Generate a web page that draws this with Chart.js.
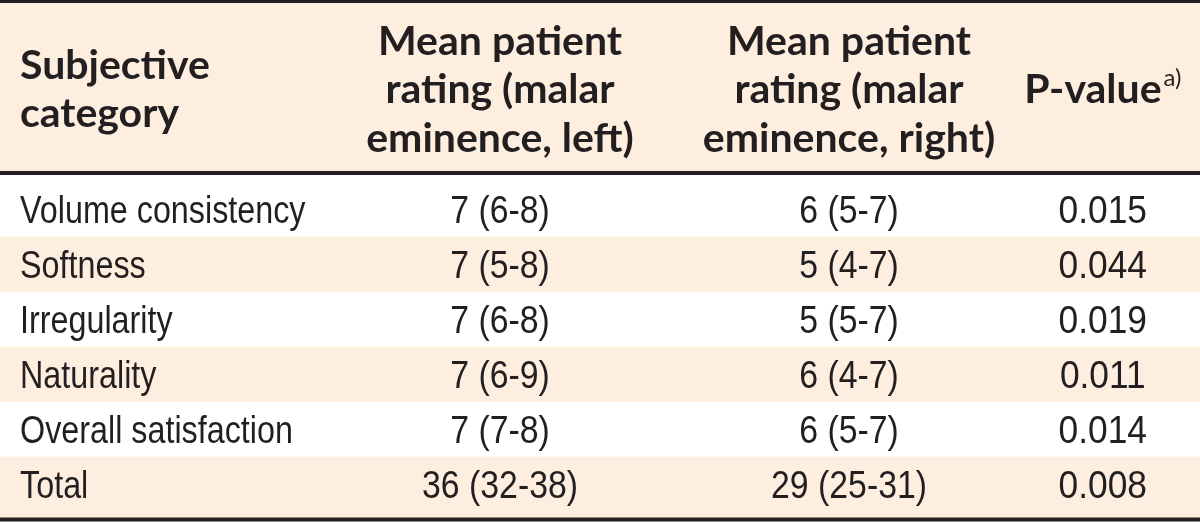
<!DOCTYPE html>
<html lang="en">
<head>
<meta charset="UTF-8">
<title>Mean patient rating by subjective category</title>
<script src="https://cdn.jsdelivr.net/npm/chart.js"></script>
<style>
  html, body { margin: 0; padding: 0; background: #fff; }
  #wrap { width: 1200px; height: 522px; }
</style>
</head>
<body>
<div id="wrap"><canvas id="tbl"></canvas></div>
<script>
const categories = ["Volume consistency", "Softness", "Irregularity", "Naturality", "Overall satisfaction", "Total"];
const leftMean = [7, 7, 7, 7, 7, 36];
const leftLow = [6, 5, 6, 6, 7, 32];
const leftHigh = [8, 8, 8, 9, 8, 38];
const rightMean = [6, 5, 5, 6, 6, 29];
const rightLow = [5, 4, 5, 4, 5, 25];
const rightHigh = [7, 7, 7, 7, 7, 31];
const pValues = [0.015, 0.044, 0.019, 0.011, 0.014, 0.008];
const headers = [
  ["Subjective", "category"],
  ["Mean patient", "rating (malar", "eminence, left)"],
  ["Mean patient", "rating (malar", "eminence, right)"],
  ["P-value"]
];
const headerNote = "a)";

// ---- look ----
const INK = "#231f20";
const PEACH = "#fdeee0";
const BODY_PX = 38;
const HEAD_PX = 41;
const bodyFont = BODY_PX + 'px "Liberation Sans Narrow", "Liberation Sans", sans-serif';
const headFont = "bold " + HEAD_PX + "px Lato, sans-serif";
const noteFont = "24px Lato, sans-serif";

// column anchors in x units (0-100 across), y units: one body row = 1
const colX = [1.67, 41.67, 70.75, 91.9];
const colAlign = ["left", "center", "center", "center"];
// body font is a condensed face in the original; squeeze the regular one
const colSqueeze = [0.85, 0.89, 0.89, 0.93];
const Y_MIN = -3.304, Y_MAX = 6.187;
const rules = [{ y: -3.276, w: 3 }, { y: -0.158, w: 4 }, { y: 6.14, w: 4 }];
const headMid = -1.43, headStep = 0.882;

const range = (lo, hi, m) => m + " (" + lo + "-" + hi + ")";
const cells = [
  categories,
  leftMean.map((m, i) => range(leftLow[i], leftHigh[i], m)),
  rightMean.map((m, i) => range(rightLow[i], rightHigh[i], m)),
  pValues.map(p => p.toFixed(3))
];

const datasets = cells.map((col, c) => ({
  label: "col" + c,
  data: col.map((_, r) => ({ x: colX[c], y: r + 0.5 })),
  pointRadius: 0,
  pointHoverRadius: 0
}));

function squeezedText(ctx, txt, px, py, sx) {
  ctx.save();
  ctx.translate(px, py);
  ctx.scale(sx, 1);
  ctx.fillText(txt, 0, 0);
  ctx.restore();
}

const tablePlugin = {
  id: "tablePlugin",
  beforeDatasetsDraw(chart) {
    const { ctx, chartArea, scales: { y } } = chart;
    const l = chartArea.left, w = chartArea.right - chartArea.left;
    ctx.save();
    ctx.fillStyle = PEACH;
    const hTop = y.getPixelForValue(rules[0].y), hBot = y.getPixelForValue(rules[1].y);
    ctx.fillRect(l, hTop, w, hBot - hTop);
    categories.forEach((_, i) => {
      if (i % 2 !== 1) return;
      const top = y.getPixelForValue(i);
      const bot = y.getPixelForValue(i === categories.length - 1 ? rules[2].y : i + 1);
      ctx.fillRect(l, top, w, bot - top);
    });
    ctx.strokeStyle = INK;
    rules.forEach(r => {
      const py = y.getPixelForValue(r.y);
      ctx.lineWidth = r.w;
      ctx.beginPath();
      ctx.moveTo(l, py);
      ctx.lineTo(l + w, py);
      ctx.stroke();
    });
    ctx.restore();
  },
  afterDatasetsDraw(chart) {
    const { ctx, scales: { x, y } } = chart;
    ctx.save();
    ctx.fillStyle = INK;
    ctx.textBaseline = "alphabetic";

    // header
    headers.forEach((lines, c) => {
      const px = x.getPixelForValue(colX[c]);
      lines.forEach((txt, k) => {
        const py = y.getPixelForValue(headMid + (k - (lines.length - 1) / 2) * headStep);
        ctx.font = headFont;
        if (c === headers.length - 1) {
          const w1 = ctx.measureText(txt).width;
          ctx.font = noteFont;
          const w2 = ctx.measureText(headerNote).width;
          const start = px - (w1 + w2 + 2) / 2;
          ctx.textAlign = "left";
          ctx.font = headFont;
          ctx.fillText(txt, start, py);
          ctx.font = noteFont;
          ctx.fillText(headerNote, start + w1 + 2, py - 17);
        } else {
          ctx.textAlign = colAlign[c];
          ctx.fillText(txt, px, py);
        }
      });
    });

    // body cells, placed on the dataset points
    ctx.font = bodyFont;
    chart.data.datasets.forEach((ds, c) => {
      const meta = chart.getDatasetMeta(c);
      ctx.textAlign = colAlign[c];
      meta.data.forEach((pt, r) => {
        squeezedText(ctx, cells[c][r], pt.x, pt.y + BODY_PX * 0.36, colSqueeze[c]);
      });
    });
    ctx.restore();
  }
};

new Chart(document.getElementById("tbl"), {
  type: "scatter",
  data: { datasets },
  options: {
    responsive: true,
    maintainAspectRatio: false,
    animation: false,
    events: [],
    layout: { padding: 0 },
    plugins: { legend: { display: false }, tooltip: { enabled: false } },
    scales: {
      x: { type: "linear", min: 0, max: 100, display: false },
      y: { type: "linear", min: Y_MIN, max: Y_MAX, reverse: true, display: false }
    }
  },
  plugins: [tablePlugin]
});
</script>
</body>
</html>
